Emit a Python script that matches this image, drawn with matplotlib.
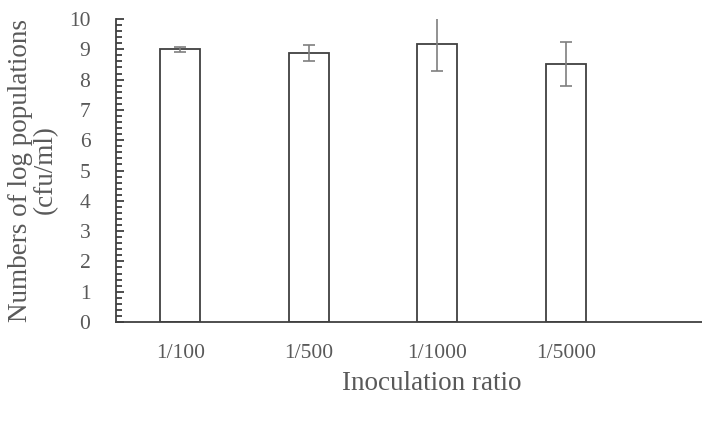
import matplotlib
matplotlib.use("Agg")
import matplotlib.pyplot as plt
from matplotlib.ticker import MultipleLocator

categories = ["1/100", "1/500", "1/1000", "1/5000"]
means = [9.0, 8.87, 9.16, 8.52]
errors = [0.08, 0.26, 0.87, 0.73]

plt.rcParams['font.family'] = ['Liberation Serif', 'DejaVu Serif']
text_color = "#595959"
line_color = "#404040"

W, H = 702, 424
fig = plt.figure(figsize=(W/100, H/100), dpi=100)
ax = fig.add_axes([116/W, 1 - 322/H, (W - 116)/W, (322 - 19)/H])

x = list(range(len(categories)))
ax.bar(x, means, width=0.315, color="white", edgecolor=line_color, linewidth=1.3, zorder=2)
ax.errorbar(x, means, yerr=errors, fmt="none", ecolor="#7f7f7f", elinewidth=1.2,
            capsize=4.5, capthick=1.2, zorder=3)

ax.set_xlim(-0.5, (W - 116)/128.5 - 0.5)
ax.set_ylim(0, 10)
ax.yaxis.set_major_locator(MultipleLocator(1))
ax.yaxis.set_minor_locator(MultipleLocator(0.2))
ax.set_xticks(x)
ax.set_xticklabels(categories)

for s in ["top", "right"]:
    ax.spines[s].set_visible(False)
for s in ["left", "bottom"]:
    ax.spines[s].set_color(line_color)
    ax.spines[s].set_linewidth(1.3)

ax.tick_params(axis="y", which="major", direction="in", length=5.8, width=1.3, color=line_color,
               labelsize=15.5, labelcolor=text_color, pad=18.5)
ax.tick_params(axis="y", which="minor", direction="in", length=4, width=1.3, color=line_color)
ax.tick_params(axis="x", which="both", length=0, labelsize=15.5, labelcolor=text_color, pad=16)

fig.text(33/W, 1 - 170/H, "Numbers of log populations\n(cfu/ml)", rotation=90,
         ha="center", va="center", fontsize=19.5, color=text_color, linespacing=0.95,
         multialignment="center")
fig.text(432/W, 1 - 383/H, "Inoculation ratio", ha="center", va="center",
         fontsize=19.5, color=text_color)

fig.savefig("out.png", dpi=100)
